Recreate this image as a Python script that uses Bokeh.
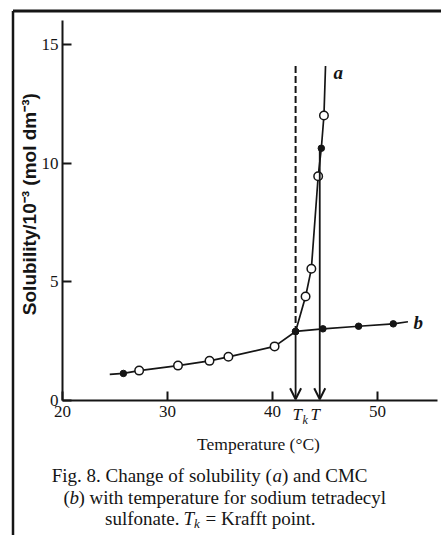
from math import pi
from bokeh.plotting import figure
from bokeh.models import Range1d, LinearAxis, FixedTicker, Arrow, OpenHead, Label
from bokeh.embed import file_html
from bokeh.resources import INLINE

# ---------------- data ----------------
# curve b : CMC vs temperature (filled = solid dots, open = open circles)
b_temp = [25.8, 27.3, 31.0, 34.0, 35.8, 40.2, 42.2, 44.8, 48.2, 51.5]
b_val = [1.14, 1.26, 1.47, 1.67, 1.84, 2.28, 2.91, 3.02, 3.13, 3.23]
b_open = [False, True, True, True, True, True, False, False, False, False]
b_line_start = (24.5, 1.10)
b_line_end = (52.9, 3.32)

# curve a : solubility vs temperature
a_temp = [42.2, 43.15, 43.7, 44.35, 44.65, 44.9]
a_val = [2.91, 4.38, 5.55, 9.45, 10.63, 12.01]
a_open = [False, True, True, True, False, True]
a_line_end = (45.05, 14.1)

# characteristic temperatures
T_k = 42.2          # Krafft point
T_cross = 44.5      # T
T_line_top = 10.6
Tk_dash_top = 14.1

x_ticks = [20, 30, 40, 50]
y_ticks = [0, 5, 10, 15]

# ---------------- geometry ----------------
W, H = 441, 535
X0_PX, Y0_PX = 62, 400      # pixel of (20, 0)
SX, SY = 10.5, 23.73        # px per degree, px per unit

def dx(px):
    return 20 + (px - X0_PX) / SX

def dy(py):
    return (Y0_PX - py) / SY

INK = "#151515"
SERIF = "Liberation Serif"

p = figure(width=W, height=H,
           x_range=Range1d(20 - X0_PX / SX, 20 + (W - X0_PX) / SX),
           y_range=Range1d(-(H - Y0_PX) / SY, Y0_PX / SY),
           x_axis_type=None, y_axis_type=None,
           toolbar_location=None, output_backend="svg",
           min_border=0, min_border_left=0, min_border_right=0,
           min_border_top=0, min_border_bottom=0,
           outline_line_color=None, background_fill_color="white",
           border_fill_color="white")

# axes placed at the data origin
def style_axis(ax, standoff):
    ax.axis_line_width = 2
    ax.axis_line_color = INK
    ax.major_tick_line_width = 2
    ax.major_tick_line_color = INK
    ax.major_tick_in = 9
    ax.major_tick_out = 0
    ax.minor_tick_line_color = None
    ax.major_label_text_font = SERIF
    ax.major_label_text_font_size = "17px"
    ax.major_label_text_color = INK
    ax.major_label_standoff = standoff

xaxis = LinearAxis(fixed_location=0, bounds=(20, 55.7),
                   ticker=FixedTicker(ticks=x_ticks))
style_axis(xaxis, 5)
p.add_layout(xaxis, "below")

yaxis = LinearAxis(fixed_location=20, bounds=(0, 16.0),
                   ticker=FixedTicker(ticks=y_ticks))
style_axis(yaxis, 4)
p.add_layout(yaxis, "left")

# frame borders of the figure panel (left and top)
p.segment(x0=[dx(12.5)], y0=[dy(10.5)], x1=[dx(12.5)], y1=[dy(560)],
          line_color=INK, line_width=2.5)
p.segment(x0=[dx(12.5)], y0=[dy(10.5)], x1=[dx(460)], y1=[dy(10.5)],
          line_color=INK, line_width=3)

# curve lines
p.line([b_line_start[0]] + b_temp + [b_line_end[0]],
       [b_line_start[1]] + b_val + [b_line_end[1]],
       line_color=INK, line_width=1.7)
p.line(a_temp + [a_line_end[0]], a_val + [a_line_end[1]],
       line_color=INK, line_width=1.7)

# Krafft point dashed line and arrows
p.segment(x0=[T_k], y0=[Tk_dash_top], x1=[T_k], y1=[a_val[0]],
          line_color=INK, line_width=2, line_dash="7 3")
p.add_layout(Arrow(end=OpenHead(size=11, line_width=2, line_color=INK),
                   x_start=T_k, y_start=a_val[0], x_end=T_k, y_end=0.05,
                   line_color=INK, line_width=1.8))
p.add_layout(Arrow(end=OpenHead(size=11, line_width=2, line_color=INK),
                   x_start=T_cross, y_start=T_line_top, x_end=T_cross, y_end=0.05,
                   line_color=INK, line_width=1.8))

# markers
def split(xs, ys, flags, want):
    return ([x for x, f in zip(xs, flags) if f == want],
            [y for y, f in zip(ys, flags) if f == want])

for xs, ys, fl in [(b_temp, b_val, b_open), (a_temp, a_val, a_open)]:
    fx, fy = split(xs, ys, fl, False)
    ox, oy = split(xs, ys, fl, True)
    p.scatter(fx, fy, marker="circle", size=6.5, fill_color=INK, line_color=INK)
    p.scatter(ox, oy, marker="circle", size=8.5, fill_color="white",
              line_color=INK, line_width=1.5)

def lab(x, y, text, size="17px", style="normal", align="left", font=SERIF,
        angle=0.0, baseline="middle"):
    p.add_layout(Label(x=x, y=y, text=text, text_font=font, text_font_size=size,
                       text_font_style=style, text_align=align,
                       text_baseline=baseline, text_color=INK, angle=angle))

# curve labels
lab(dx(333), dy(72), "a", size="19px", style="bold italic")
lab(dx(413), dy(322), "b", size="19px", style="bold italic")

# T_k and T labels under the axis
lab(dx(292), dy(414), "T", style="italic")
lab(dx(302), dy(419), "k", size="12px", style="italic")
lab(dx(310), dy(414), "T", style="italic")

# axis titles
lab(dx(258), dy(443), "Temperature (°C)", size="17.5px", align="center")
lab(dx(29), dy(201), "Solubility/10\u207b\u00b3 (mol  dm\u207b\u00b3)", size="19px",
    style="bold", align="center", font="Liberation Sans", angle=pi / 2)

# caption
cap = "19px"
lab(dx(276), dy(475), "Fig. 8.  Change of solubility (", size=cap, align="right")
lab(dx(272), dy(475), "a", size=cap, style="italic")
lab(dx(281.5), dy(475), ") and CMC", size=cap)

lab(dx(63), dy(497), "(", size=cap)
lab(dx(69), dy(497), "b", size=cap, style="italic")
lab(dx(78), dy(497), ") with temperature for sodium tetradecyl", size=cap)

lab(dx(179), dy(518), "sulfonate.", size=cap, align="right")
lab(dx(183), dy(518), "T", size=cap, style="italic")
lab(dx(193.5), dy(523), "k", size="13px", style="italic")
lab(dx(205), dy(518), "=  Krafft point.", size=cap)

open("out.html", "w").write(file_html(p, INLINE))
